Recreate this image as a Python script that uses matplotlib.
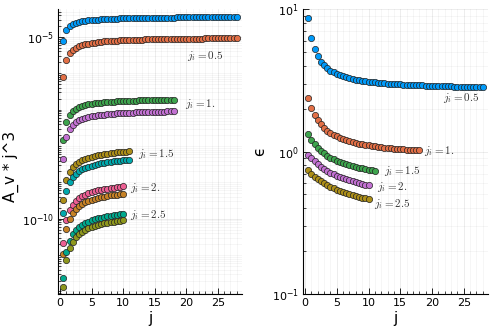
import numpy as np
import matplotlib
matplotlib.use("Agg")
import matplotlib.pyplot as plt
from matplotlib.ticker import LogLocator, FixedLocator, NullFormatter, MultipleLocator

plt.rcParams['mathtext.fontset'] = 'dejavusans'
plt.rcParams['font.family'] = ['DejaVu Sans']

# ---------------- data ----------------
j_full = np.arange(0.5, 28.01, 0.5)   # j_i = 0.5 series
j_18 = np.arange(0.5, 18.01, 0.5)     # j_i = 1
j_11 = np.arange(0.5, 11.01, 0.5)     # j_i = 1.5
j_10 = np.arange(0.5, 10.01, 0.5)     # j_i = 2, 2.5

# left panel: log10(A_v * j^3)
logA_05a = [-5.116, -4.821, -4.711, -4.652, -4.615, -4.589, -4.570, -4.555, -4.544, -4.534,
            -4.526, -4.519, -4.513, -4.508, -4.503, -4.500, -4.496, -4.493, -4.490, -4.487,
            -4.485, -4.483, -4.481, -4.479, -4.477, -4.475, -4.474, -4.472, -4.471, -4.470,
            -4.469, -4.467, -4.466, -4.465, -4.464, -4.464, -4.463, -4.462, -4.461, -4.460,
            -4.460, -4.459, -4.458, -4.458, -4.457, -4.457, -4.456, -4.455, -4.455, -4.454,
            -4.454, -4.454, -4.453, -4.453, -4.452, -4.452]
logA_05b = [-6.107, -5.631, -5.453, -5.358, -5.297, -5.255, -5.224, -5.200, -5.181, -5.166,
            -5.153, -5.142, -5.132, -5.124, -5.117, -5.110, -5.104, -5.099, -5.095, -5.090,
            -5.086, -5.083, -5.080, -5.076, -5.074, -5.071, -5.069, -5.066, -5.064, -5.062,
            -5.060, -5.058, -5.057, -5.055, -5.054, -5.052, -5.051, -5.049, -5.048, -5.047,
            -5.046, -5.045, -5.044, -5.043, -5.042, -5.041, -5.040, -5.039, -5.038, -5.037,
            -5.037, -5.036, -5.035, -5.034, -5.034, -5.033]
logA_10a = [-7.824, -7.327, -7.141, -7.041, -6.978, -6.934, -6.902, -6.877, -6.857, -6.841,
            -6.827, -6.816, -6.806, -6.797, -6.790, -6.783, -6.777, -6.771, -6.766, -6.762,
            -6.758, -6.754, -6.751, -6.748, -6.745, -6.742, -6.739, -6.737, -6.735, -6.732,
            -6.731, -6.729, -6.727, -6.725, -6.724, -6.722]
logA_10b = [-8.347, -7.759, -7.539, -7.421, -7.347, -7.295, -7.257, -7.227, -7.204, -7.185,
            -7.168, -7.155, -7.143, -7.133, -7.124, -7.116, -7.109, -7.102, -7.097, -7.091,
            -7.087, -7.082, -7.078, -7.074, -7.071, -7.068, -7.065, -7.062, -7.059, -7.057,
            -7.054, -7.052, -7.050, -7.048, -7.046, -7.044]
logA_15a = [-9.476, -8.939, -8.715, -8.585, -8.499, -8.437, -8.389, -8.351, -8.320, -8.295,
            -8.273, -8.254, -8.237, -8.222, -8.209, -8.197, -8.186, -8.177, -8.168, -8.160,
            -8.152, -8.145]
logA_15b = [-9.833, -9.245, -8.999, -8.857, -8.763, -8.695, -8.643, -8.601, -8.567, -8.539,
            -8.515, -8.494, -8.476, -8.460, -8.445, -8.432, -8.421, -8.410, -8.400, -8.391,
            -8.383, -8.375]
logA_20a = [-10.660, -10.028, -9.763, -9.611, -9.509, -9.436, -9.380, -9.335, -9.299, -9.268,
            -9.243, -9.220, -9.201, -9.183, -9.168, -9.154, -9.141, -9.130, -9.119, -9.110]
logA_20b = [-10.963, -10.289, -10.007, -9.845, -9.737, -9.659, -9.599, -9.552, -9.513, -9.481,
            -9.453, -9.429, -9.408, -9.390, -9.373, -9.359, -9.345, -9.333, -9.322, -9.312]
logA_25a = [-11.625, -10.906, -10.605, -10.432, -10.317, -10.234, -10.170, -10.119, -10.078, -10.043,
            -10.014, -9.988, -9.966, -9.946, -9.929, -9.913, -9.898, -9.885, -9.873, -9.863]
logA_25b = [-11.874, -11.127, -10.814, -10.634, -10.514, -10.427, -10.361, -10.309, -10.265, -10.229,
            -10.199, -10.172, -10.149, -10.129, -10.110, -10.094, -10.079, -10.066, -10.053, -10.042]

# right panel: log10(epsilon)
logE_05 = [0.938, 0.798, 0.718, 0.667, 0.631, 0.605, 0.584, 0.568, 0.555, 0.544,
           0.535, 0.527, 0.521, 0.515, 0.510, 0.505, 0.501, 0.497, 0.494, 0.491,
           0.488, 0.486, 0.483, 0.481, 0.479, 0.477, 0.476, 0.474, 0.473, 0.471,
           0.470, 0.469, 0.468, 0.466, 0.465, 0.464, 0.464, 0.463, 0.462, 0.461,
           0.460, 0.460, 0.459, 0.458, 0.458, 0.457, 0.456, 0.456, 0.455, 0.455,
           0.454, 0.454, 0.453, 0.453, 0.452, 0.452]
logE_10 = [0.372, 0.304, 0.255, 0.218, 0.190, 0.166, 0.147, 0.131, 0.118, 0.106,
           0.096, 0.088, 0.080, 0.073, 0.067, 0.061, 0.056, 0.052, 0.047, 0.044,
           0.040, 0.037, 0.034, 0.031, 0.028, 0.026, 0.024, 0.021, 0.019, 0.017,
           0.016, 0.014, 0.012, 0.011, 0.009, 0.008]
logE_15 = [0.121, 0.082, 0.051, 0.026, 0.005, -0.014, -0.029, -0.043, -0.055, -0.065,
           -0.074, -0.083, -0.090, -0.097, -0.103, -0.109, -0.114, -0.119, -0.124, -0.128,
           -0.131, -0.135]
logE_20 = [-0.023, -0.048, -0.070, -0.090, -0.107, -0.122, -0.136, -0.148, -0.159, -0.170,
           -0.179, -0.188, -0.196, -0.203, -0.210, -0.216, -0.222, -0.228, -0.233, -0.238]
logE_25 = [-0.133, -0.156, -0.177, -0.194, -0.210, -0.224, -0.237, -0.249, -0.259, -0.269,
           -0.277, -0.285, -0.293, -0.300, -0.306, -0.312, -0.317, -0.323, -0.327, -0.332]

pal = ['#009AF9', '#E26F46', '#3DA44D', '#C271D2', '#AC8E18',
       '#00A9AD', '#ED5E93', '#C68125', '#00A98D', '#8E971D']

left_series = [(j_full, logA_05a), (j_full, logA_05b), (j_18, logA_10a), (j_18, logA_10b),
               (j_11, logA_15a), (j_11, logA_15b), (j_10, logA_20a), (j_10, logA_20b),
               (j_10, logA_25a), (j_10, logA_25b)]
right_series = [(j_full, logE_05), (j_18, logE_10), (j_11, logE_15), (j_10, logE_20), (j_10, logE_25)]

left_labels = [(20.1, -5.51, r'$j_i = 0.5$'), (19.8, -6.83, r'$j_i = 1.$'),
               (12.4, -8.21, r'$j_i = 1.5$'), (11.1, -9.15, r'$j_i = 2.$'),
               (11.1, -9.89, r'$j_i = 2.5$')]
right_labels = [(21.7, 0.378, r'$j_i = 0.5$'), (18.8, 0.006, r'$j_i = 1.$'),
                (12.4, -0.135, r'$j_i = 1.5$'), (11.4, -0.247, r'$j_i = 2.$'),
                (10.8, -0.367, r'$j_i = 2.5$')]

# ---------------- figure ----------------
fig = plt.figure(figsize=(4.98, 3.32), dpi=100)
axL = fig.add_axes([58/498, 1-294/332, 184/498, 285/332])
axR = fig.add_axes([303/498, 1-294/332, 185/498, 285/332])

def style(ax):
    ax.set_yscale('log')
    for s in ['top', 'right']:
        ax.spines[s].set_visible(False)
    for s in ['left', 'bottom']:
        ax.spines[s].set_color('black')
        ax.spines[s].set_linewidth(0.8)
    ax.xaxis.set_major_locator(FixedLocator([0, 5, 10, 15, 20, 25]))
    ax.xaxis.set_minor_locator(MultipleLocator(1))
    ax.tick_params(which='major', direction='in', length=4, width=0.6, labelsize=8, pad=3)
    ax.tick_params(which='minor', direction='in', length=2, width=0.5)
    ax.grid(which='major', color='black', alpha=0.1, linewidth=0.5)
    ax.grid(which='minor', color='black', alpha=0.05, linewidth=0.5)
    ax.set_axisbelow(True)
    ax.set_xlim(-0.325, 28.825)
    ax.set_xlabel('j', fontsize=11, labelpad=2)

for (x, ly), c in zip(left_series, pal):
    axL.plot(x, 10.0 ** np.array(ly), 'o', ms=4.5, mfc=c, mec='#222222', mew=0.5, zorder=3)
for (x, ly), c in zip(right_series, pal[:5]):
    axR.plot(x, 10.0 ** np.array(ly), 'o', ms=4.5, mfc=c, mec='#222222', mew=0.5, zorder=3)

style(axL)
style(axR)

axL.set_ylim(10 ** -12.07, 10 ** -4.23)
axL.yaxis.set_major_locator(FixedLocator([1e-10, 1e-5]))
axL.yaxis.set_minor_locator(LogLocator(base=10, subs=np.arange(1, 10), numticks=30))
axL.yaxis.set_minor_formatter(NullFormatter())
axL.set_yticklabels([r'$10^{-10}$', r'$10^{-5}$'])
axL.set_ylabel('A_v * j^3', fontsize=11)
axL.yaxis.set_label_coords(-0.21, 0.446)

axR.set_ylim(0.1, 10)
axR.yaxis.set_major_locator(FixedLocator([0.1, 1, 10]))
axR.yaxis.set_minor_locator(LogLocator(base=10, subs=np.arange(2, 10), numticks=30))
axR.yaxis.set_minor_formatter(NullFormatter())
axR.set_yticklabels([r'$10^{-1}$', r'$10^{0}$', r'$10^{1}$'])
axR.set_ylabel('ϵ', fontsize=11)
axR.yaxis.set_label_coords(-0.195, 0.5)

for x, ly, t in left_labels:
    axL.text(x, 10 ** ly, t, fontsize=8, color='#333333', ha='left', va='center',
             math_fontfamily='cm')
for x, ly, t in right_labels:
    axR.text(x, 10 ** ly, t, fontsize=8, color='#333333', ha='left', va='center',
             math_fontfamily='cm')

fig.savefig('out.png', dpi=100)
